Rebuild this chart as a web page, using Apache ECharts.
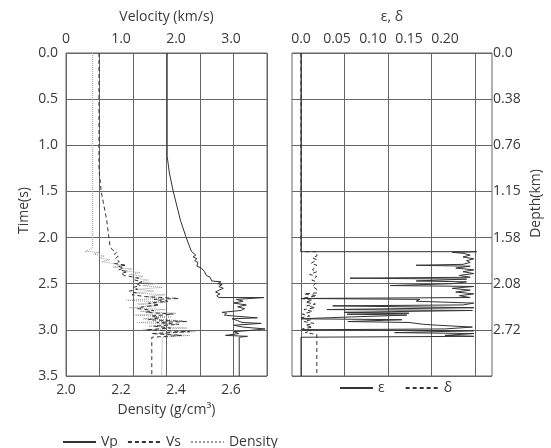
<!DOCTYPE html>
<html><head><meta charset="utf-8">
<script src="https://cdn.jsdelivr.net/npm/echarts@6/dist/echarts.min.js"></script>
<style>html,body{margin:0;padding:0;background:#fff}#c{width:551px;height:448px}</style>
</head><body><div id="c"></div>
<script>
// ---- data ----
var vpTime = [0,1.12,1.30,1.50,1.81,1.99,2.15,2.17,2.19,2.21,2.23,2.25,2.27,2.29,2.31,2.33,2.35,2.37,2.39,2.41,2.43,2.45,2.47,2.48,2.50,2.51,2.53,2.55,2.57,2.59,2.61,2.63,2.65,2.65,2.67,2.69,2.71,2.73,2.75,2.77,2.79,2.81,2.82,2.84,2.85,2.87,2.88,2.90,2.92,2.93,2.95,2.97,2.99,3.01,3.02,3.04,3.06,3.07,3.08,3.50];
var vpVel  = [1.84,1.84,1.88,1.95,2.08,2.18,2.28,2.31,2.36,2.31,2.38,2.34,2.40,2.43,2.38,2.46,2.43,2.52,2.49,2.55,2.62,2.60,2.65,2.82,2.76,2.84,2.78,2.86,2.78,2.72,2.80,2.74,2.78,3.60,3.10,3.22,3.05,3.28,3.12,3.25,3.18,2.84,2.92,2.88,3.05,3.48,3.02,3.12,3.20,3.55,3.05,3.22,3.62,3.28,3.05,3.14,2.90,3.30,3.15,3.15];

var vsTime = [0,1.27,1.50,1.81,2.09,2.11,2.13,2.16,2.18,2.20,2.23,2.26,2.28,2.30,2.31,2.33,2.35,2.37,2.39,2.41,2.44,2.46,2.48,2.50,2.52,2.54,2.56,2.58,2.60,2.62,2.64,2.66,2.67,2.69,2.71,2.73,2.75,2.77,2.79,2.81,2.83,2.85,2.87,2.89,2.91,2.92,2.94,2.96,2.98,3.00,3.02,3.04,3.06,3.08,3.50];
var vsVel  = [0.60,0.60,0.64,0.74,0.80,0.80,0.84,0.92,0.88,0.95,0.90,0.97,0.88,1.10,0.95,1.05,0.96,1.12,1.00,1.06,1.32,1.25,1.38,1.28,1.35,1.22,1.30,1.15,1.28,1.20,1.45,2.05,1.60,1.85,1.50,1.70,1.40,1.30,1.60,1.45,1.95,1.55,1.70,1.50,2.20,1.65,2.05,1.60,1.90,1.45,2.25,1.55,2.10,1.56,1.56];

var rhoTime = [0,2.11,2.13,2.15,2.16,2.18,2.20,2.22,2.24,2.26,2.28,2.30,2.32,2.34,2.36,2.38,2.40,2.42,2.44,2.46,2.48,2.50,2.52,2.54,2.56,2.58,2.60,2.62,2.64,2.66,2.68,2.70,2.72,2.74,2.76,2.78,2.80,2.82,2.84,2.86,2.88,2.90,2.92,2.94,2.96,2.98,3.00,3.02,3.04,3.06,3.08,3.10,3.50];
var rhoVal  = [2.097,2.097,2.10,2.07,2.12,2.10,2.14,2.12,2.16,2.13,2.17,2.20,2.17,2.24,2.21,2.27,2.23,2.28,2.25,2.30,2.27,2.33,2.28,2.35,2.26,2.32,2.25,2.36,2.29,2.34,2.22,2.37,2.26,2.33,2.23,2.36,2.27,2.40,2.25,2.38,2.28,2.42,2.26,2.38,2.30,2.44,2.28,2.47,2.33,2.45,2.35,2.348,2.348];

var epsTime = [0,2.153,2.153,2.16,2.17,2.19,2.21,2.23,2.25,2.27,2.29,2.30,2.31,2.33,2.35,2.37,2.39,2.41,2.43,2.44,2.45,2.47,2.48,2.50,2.52,2.53,2.55,2.57,2.59,2.61,2.63,2.65,2.66,2.67,2.69,2.71,2.73,2.74,2.76,2.78,2.79,2.81,2.82,2.83,2.84,2.86,2.88,2.89,2.91,2.92,2.94,2.95,2.97,2.99,3.00,3.01,3.03,3.04,3.06,3.07,3.08,3.50];
var epsVal  = [0,0,0.244,0.21,0.225,0.235,0.225,0.24,0.23,0.235,0.225,0.16,0.235,0.215,0.24,0.225,0.24,0.22,0.235,0.068,0.23,0.16,0.23,0.21,0.124,0.24,0.21,0.235,0.215,0.24,0.22,0.235,0.0,0.165,0.16,0.24,0.225,0.044,0.24,0.036,0.238,0.06,0.15,0.064,0.147,0.07,0.0,0.14,0.065,0.15,0.17,0.19,0.238,0.2,0.0,0.24,0.13,0.24,0.2,0.24,0.0,0.0];

var delTime = [0,2.153,2.153,2.20,2.22,2.24,2.28,2.30,2.35,2.37,2.40,2.42,2.46,2.48,2.53,2.56,2.60,2.61,2.63,2.66,2.68,2.70,2.72,2.74,2.76,2.78,2.80,2.83,2.85,2.87,2.89,2.91,2.93,2.95,2.97,2.99,3.01,3.03,3.05,3.50];
var delVal  = [0,0,0.022,0.022,0.016,0.022,0.014,0.022,0.016,0.022,0.012,0.022,0.015,0.022,0.016,0.022,0.022,0.004,0.022,0.0,0.016,0.006,0.020,0.008,0.020,0.004,0.016,0.002,0.012,0.0,0.014,0.004,0.018,0.006,0.016,0.002,0.014,0.006,0.022,0.022];

var timeTicks = ['0.0','0.5','1.0','1.5','2.0','2.5','3.0','3.5'];
var depthTicks = ['0.0','0.38','0.76','1.15','1.58','2.08','2.72',''];
var velTicks = [0,1,2,3];
var velTickLabels = ['0','1.0','2.0','3.0'];
var rhoTicks = [2.0,2.2,2.4,2.6];
var rhoTickLabels = ['2.0','2.2','2.4','2.6'];
var epsTicks = [0,0.05,0.10,0.15,0.20];
var epsTickLabels = ['0.0','0.05','0.10','0.15','0.20'];

function pairs(vals, times){ return vals.map(function(v,i){ return [v, times[i]]; }); }

var FONT = 'Open Sans';
var TXT = '#3a3a3a';
var GRIDC = '#666';
var lab = {fontFamily: FONT, fontSize: 14, color: TXT};

function lookup(ticks, labels){
  return function(v){ for (var i=0;i<ticks.length;i++){ if (Math.abs(ticks[i]-v)<1e-6) return labels[i]; } return ''; };
}

var chart = echarts.init(document.getElementById('c'), null, {renderer:'canvas'});
var hideSym = {color:'rgba(0,0,0,0)', borderWidth:0, opacity:0};
var option = {
  animation: false,
  backgroundColor: '#fff',
  textStyle: {fontFamily: FONT},
  grid: [
    {left: 66, top: 53, width: 201, height: 323, show: true, borderColor: GRIDC, borderWidth: 1},
    {left: 292, top: 53, width: 200, height: 323, show: true, borderColor: GRIDC, borderWidth: 1},
    {left: 301, top: 53, width: 174, height: 323, show: false}
  ],
  xAxis: [
    {type:'value', gridIndex:0, position:'top', min:0, max:3.655,
     name:'Velocity (km/s)', nameLocation:'middle', nameGap:29, nameTextStyle: lab,
     axisLine:{show:false}, axisTick:{show:false}, splitLine:{show:false},
     axisLabel: Object.assign({customValues: velTicks, formatter: lookup(velTicks, velTickLabels), margin:7}, lab)},
    {type:'value', gridIndex:0, position:'bottom', min:2.0, max:2.731,
     name:'Density (g/cm³)', nameLocation:'middle', nameGap:27, nameTextStyle: lab,
     axisLine:{show:false}, axisTick:{show:false}, splitLine:{show:false},
     axisLabel: Object.assign({customValues: rhoTicks, formatter: lookup(rhoTicks, rhoTickLabels), margin:7}, lab)},
    {type:'value', gridIndex:0, min:0, max:6, interval:1,
     axisLine:{show:false}, axisTick:{show:false}, axisLabel:{show:false},
     splitLine:{show:true, lineStyle:{color:GRIDC, width:1}}},
    {type:'value', gridIndex:1, position:'top', min:-0.0125, max:0.2653,
     name:'ε, δ', nameLocation:'middle', nameGap:29, nameTextStyle: lab,
     axisLine:{show:false}, axisTick:{show:false}, splitLine:{show:false},
     axisLabel: Object.assign({customValues: epsTicks, formatter: lookup(epsTicks, epsTickLabels), margin:7}, lab)},
    {type:'value', gridIndex:2, min:0, max:4, interval:1,
     axisLine:{show:false}, axisTick:{show:false}, axisLabel:{show:false},
     splitLine:{show:true, lineStyle:{color:GRIDC, width:1}}}
  ],
  yAxis: [
    {type:'value', gridIndex:0, inverse:true, min:0, max:3.5, interval:0.5,
     name:'Time(s)', nameLocation:'middle', nameGap:35, nameTextStyle: Object.assign({}, lab, {padding:[0,0,0,8]}),
     axisLine:{show:false}, axisTick:{show:false},
     splitLine:{show:true, lineStyle:{color:GRIDC, width:1}},
     axisLabel: Object.assign({formatter: function(v){ return timeTicks[Math.round(v*2)]; }, margin:8}, lab)},
    {type:'value', gridIndex:1, inverse:true, min:0, max:3.5, interval:0.5, position:'right',
     name:'Depth(km)', nameLocation:'middle', nameGap:37, nameTextStyle: Object.assign({}, lab, {padding:[0,0,0,22]}),
     axisLine:{show:false}, axisTick:{show:false},
     splitLine:{show:true, lineStyle:{color:GRIDC, width:1}},
     axisLabel: Object.assign({formatter: function(v){ return depthTicks[Math.round(v*2)]; }, margin:1}, lab)},
    {type:'value', gridIndex:2, inverse:true, min:0, max:3.5, show:false}
  ],
  legend: [
    {data:['Vp','Vs','Density'], left:57, top:430, itemWidth:33, itemHeight:10, itemGap:9,
     itemStyle: hideSym, textStyle: lab},
    {data:['ε','δ'], left:334, top:376, itemWidth:33, itemHeight:10, itemGap:20,
     itemStyle: hideSym, textStyle: lab}
  ],
  series: [
    {name:'Density', type:'line', xAxisIndex:1, yAxisIndex:0, symbol:'none', silent:true,
     lineStyle:{color:'#9a9a9a', width:1, type:'dotted'}, itemStyle:{color:'#9a9a9a'},
     data: pairs(rhoVal, rhoTime)},
    {name:'Vs', type:'line', xAxisIndex:0, yAxisIndex:0, symbol:'none', silent:true,
     lineStyle:{color:'#333', width:1, type:[4,3]}, itemStyle:{color:'#333'},
     data: pairs(vsVel, vsTime)},
    {name:'Vp', type:'line', xAxisIndex:0, yAxisIndex:0, symbol:'none', silent:true,
     lineStyle:{color:'#333', width:1}, itemStyle:{color:'#333'},
     data: pairs(vpVel, vpTime)},
    {name:'ε', type:'line', xAxisIndex:3, yAxisIndex:1, symbol:'none', silent:true,
     lineStyle:{color:'#333', width:1}, itemStyle:{color:'#333'},
     data: pairs(epsVal, epsTime)},
    {name:'δ', type:'line', xAxisIndex:3, yAxisIndex:1, symbol:'none', silent:true,
     lineStyle:{color:'#333', width:1, type:[4,3]}, itemStyle:{color:'#333'},
     data: pairs(delVal, delTime)}
  ]
};
chart.setOption(option);
</script>
</body></html>
